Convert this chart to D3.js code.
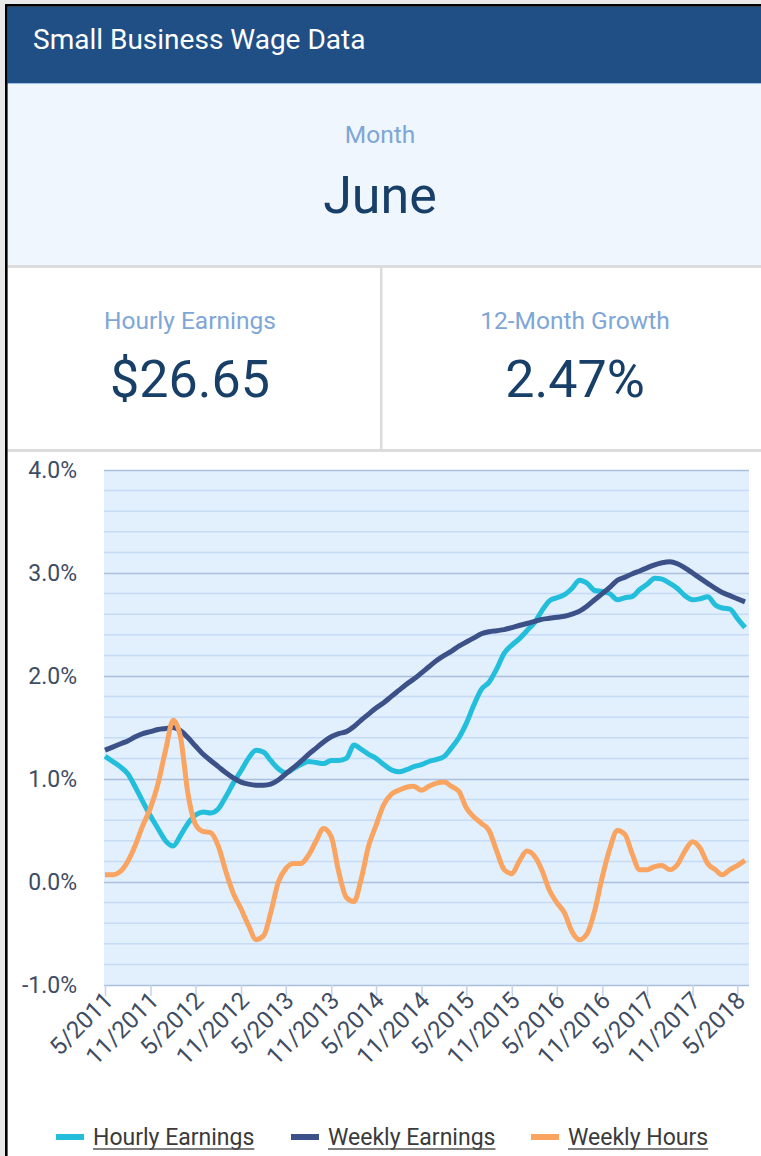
<!DOCTYPE html>
<html><head><meta charset="utf-8">
<script src="https://cdn.jsdelivr.net/npm/d3@7"></script>
<style>
html,body{margin:0;padding:0;background:#e9e9e9;}
svg{display:block;font-family:Roboto,"Noto Sans",sans-serif;}
</style></head><body>
<svg id="chart" width="761" height="1156"></svg>
<script>
// ---- data ----
const seriesNames = ["Hourly Earnings", "Weekly Earnings", "Weekly Hours"];
const seriesColors = ["#22bedb", "#3b5188", "#f9a461"];
const startYear = 2011, startMonth = 4; // first observation: May 2011 (month index 0-based)

const hourlyEarnings = [1.22,1.17,1.12,1.05,0.92,0.78,0.64,0.52,0.40,0.35,0.45,0.57,0.65,0.68,0.67,0.71,0.83,0.96,1.08,1.20,
  1.28,1.26,1.18,1.10,1.06,1.10,1.14,1.17,1.16,1.15,1.18,1.18,1.20,1.33,1.29,1.24,1.20,1.14,1.09,1.07,
  1.09,1.12,1.14,1.17,1.19,1.22,1.30,1.40,1.54,1.72,1.87,1.94,2.07,2.22,2.30,2.36,2.44,2.52,2.63,2.73,
  2.76,2.79,2.85,2.93,2.90,2.83,2.82,2.80,2.74,2.76,2.77,2.84,2.89,2.95,2.94,2.90,2.85,2.78,2.74,2.75,
  2.77,2.69,2.66,2.65,2.56,2.47];
const weeklyEarnings = [1.28,1.31,1.34,1.37,1.41,1.44,1.46,1.48,1.49,1.50,1.47,1.40,1.32,1.24,1.18,1.12,1.06,1.01,0.97,0.95,
  0.94,0.94,0.95,0.99,1.05,1.11,1.17,1.24,1.30,1.36,1.41,1.44,1.46,1.51,1.57,1.63,1.69,1.74,1.80,1.86,
  1.92,1.97,2.03,2.09,2.15,2.20,2.24,2.29,2.33,2.37,2.41,2.43,2.44,2.45,2.47,2.49,2.51,2.53,2.55,2.56,
  2.57,2.58,2.60,2.63,2.68,2.74,2.80,2.86,2.93,2.96,2.99,3.02,3.05,3.08,3.10,3.11,3.09,3.05,3.00,2.95,
  2.90,2.85,2.81,2.78,2.75,2.72];
const weeklyHours = [0.07,0.07,0.10,0.20,0.36,0.55,0.72,0.95,1.28,1.57,1.41,0.85,0.56,0.49,0.48,0.35,0.10,-0.11,-0.26,-0.42,
  -0.56,-0.52,-0.30,0.00,0.13,0.18,0.18,0.26,0.40,0.52,0.44,0.10,-0.15,-0.19,0.02,0.35,0.55,0.75,0.85,0.89,
  0.92,0.93,0.89,0.93,0.96,0.97,0.93,0.88,0.72,0.63,0.57,0.50,0.30,0.12,0.08,0.20,0.30,0.25,0.12,-0.08,
  -0.20,-0.30,-0.48,-0.56,-0.50,-0.28,0.05,0.32,0.50,0.46,0.28,0.12,0.12,0.15,0.16,0.12,0.17,0.30,0.39,0.33,
  0.18,0.12,0.07,0.12,0.16,0.21];

const yTickValues = [-1, 0, 1, 2, 3, 4];
const xTickLabels = ["5/2011","11/2011","5/2012","11/2012","5/2013","11/2013","5/2014","11/2014",
  "5/2015","11/2015","5/2016","11/2016","5/2017","11/2017","5/2018"];

const cardLabels = ["Month", "Hourly Earnings", "12-Month Growth"];
const cardValues = ["June", "$26.65", "2.47%"];
const titleText = "Small Business Wage Data";

// ---- page frame ----
const svg = d3.select("#chart");
const W = 761, H = 1156;

svg.append("rect").attr("x", 0).attr("y", 0).attr("width", W).attr("height", H).attr("fill", "#e9e9e9");
svg.append("rect").attr("x", 6.3).attr("y", 5.3).attr("width", W).attr("height", H).attr("fill", "#ffffff");

// header bar
svg.append("rect").attr("x", 7.5).attr("y", 6.5).attr("width", W).attr("height", 77).attr("fill", "#204f86");
svg.append("text").attr("x", 33).attr("y", 49).attr("fill", "#ffffff")
  .attr("font-size", 28).text(titleText);

// month panel
svg.append("rect").attr("x", 7.5).attr("y", 83.5).attr("width", W).attr("height", 182).attr("fill", "#eff6fe");
svg.append("line").attr("x1", 7.5).attr("x2", W).attr("y1", 83.5).attr("y2", 83.5).attr("stroke", "#9fc0e6").attr("stroke-width", 1);

// separators
svg.append("rect").attr("x", 7.5).attr("y", 265).attr("width", W).attr("height", 3).attr("fill", "#dcdcdc");
svg.append("rect").attr("x", 7.5).attr("y", 449).attr("width", W).attr("height", 3).attr("fill", "#dcdcdc");
svg.append("rect").attr("x", 380).attr("y", 268).attr("width", 2.5).attr("height", 181).attr("fill", "#dcdcdc");

// summary cards
const cardPos = [[380, 143, 213], [190, 329, 397], [575, 329, 397]];
cardLabels.forEach((lab, i) => {
  const [cx, ly, vy] = cardPos[i];
  svg.append("text").attr("x", cx).attr("y", ly).attr("text-anchor", "middle")
    .attr("fill", "#7ea6d6").attr("font-size", 24.5).text(lab);
  svg.append("text").attr("x", cx).attr("y", vy).attr("text-anchor", "middle")
    .attr("fill", "#173f68").attr("font-size", 52).text(cardValues[i]);
});

// left / top black frame
svg.append("rect").attr("x", 5).attr("y", 4).attr("width", 2.6).attr("height", H).attr("fill", "#000");
svg.append("rect").attr("x", 5).attr("y", 4).attr("width", W).attr("height", 2.6).attr("fill", "#000");

// ---- line chart ----
const plot = { left: 104, right: 749, top: 470, bottom: 985 };
const months = hourlyEarnings.map((_, i) => new Date(startYear, startMonth + i, 1));
const x = d3.scaleTime()
  .domain([months[0], months[months.length - 1]])
  .range([105, 745]);
const y = d3.scaleLinear().domain([-1, 4]).range([plot.bottom, plot.top]);

const g = svg.append("g");
g.append("rect").attr("x", plot.left).attr("y", plot.top)
  .attr("width", plot.right - plot.left).attr("height", plot.bottom - plot.top)
  .attr("fill", "#e2effd");

// minor grid every 0.2 percentage points, major at whole percents
const minor = d3.range(-1, 4.0001, 0.2).map(v => +v.toFixed(1)).filter(v => !yTickValues.includes(v));
g.selectAll("line.minor").data(minor).join("line")
  .attr("x1", plot.left).attr("x2", plot.right)
  .attr("y1", d => y(d)).attr("y2", d => y(d))
  .attr("stroke", "#c6dbf6").attr("stroke-width", 1.5);

const pct = d => d3.format(".1f")(d).replace("\u2212", "-") + "%";
const yAxis = d3.axisLeft(y).tickValues(yTickValues).tickSize(-(plot.right - plot.left)).tickFormat(pct);
const ya = g.append("g").attr("transform", `translate(${plot.left},0)`).call(yAxis);
ya.attr("font-size", null).attr("font-family", null);
ya.select(".domain").remove();
ya.selectAll(".tick line").attr("stroke", "#a9bfdc").attr("stroke-width", 1.5);
ya.selectAll(".tick text").attr("x", -27).attr("font-size", 23).attr("fill", "#3e4d63")
  .attr("font-family", "Roboto");

// x ticks
const parseTick = s => { const [m, yr] = s.split("/").map(Number); return new Date(yr, m - 1, 1); };
const xAxis = d3.axisBottom(x).tickValues(xTickLabels.map(parseTick)).tickSize(11)
  .tickFormat(d => (d.getMonth() + 1) + "/" + d.getFullYear());
const xa = g.append("g").attr("transform", `translate(0,${plot.bottom})`).call(xAxis);
xa.attr("font-size", null).attr("font-family", null);
xa.select(".domain").remove();
xa.selectAll(".tick line").attr("stroke", "#c3d2e8").attr("stroke-width", 1.5);
xa.selectAll(".tick text")
  .attr("font-size", 24).attr("fill", "#3e4d63").attr("font-family", "Roboto")
  .attr("text-anchor", "end")
  .attr("transform", "translate(3,11) rotate(-45)")
  .attr("x", 0).attr("y", 0).attr("dy", "0.35em");

const allSeries = [hourlyEarnings, weeklyEarnings, weeklyHours];
const line = d3.line().x((d, i) => x(months[i])).y(d => y(d)).curve(d3.curveMonotoneX);
allSeries.forEach((s, k) => {
  g.append("path").datum(s).attr("d", line)
    .attr("fill", "none").attr("stroke", seriesColors[k])
    .attr("stroke-width", 5).attr("stroke-linejoin", "round");
});

// ---- legend ----
const legendX = [56, 291, 531];
const legendY = 1137;
seriesNames.forEach((name, k) => {
  const lg = svg.append("g").attr("transform", `translate(${legendX[k]},${legendY})`);
  lg.append("rect").attr("x", 0).attr("y", -3).attr("width", 28).attr("height", 6).attr("fill", seriesColors[k]);
  const t = lg.append("text").attr("x", 37).attr("y", 8).attr("font-size", 23).attr("fill", "#3a3a3a").text(name);
  const w = t.node().getComputedTextLength();
  lg.append("line").attr("x1", 37).attr("x2", 37 + w).attr("y1", 12).attr("y2", 12)
    .attr("stroke", "#555").attr("stroke-width", 1.5);
});
</script>
</body></html>
